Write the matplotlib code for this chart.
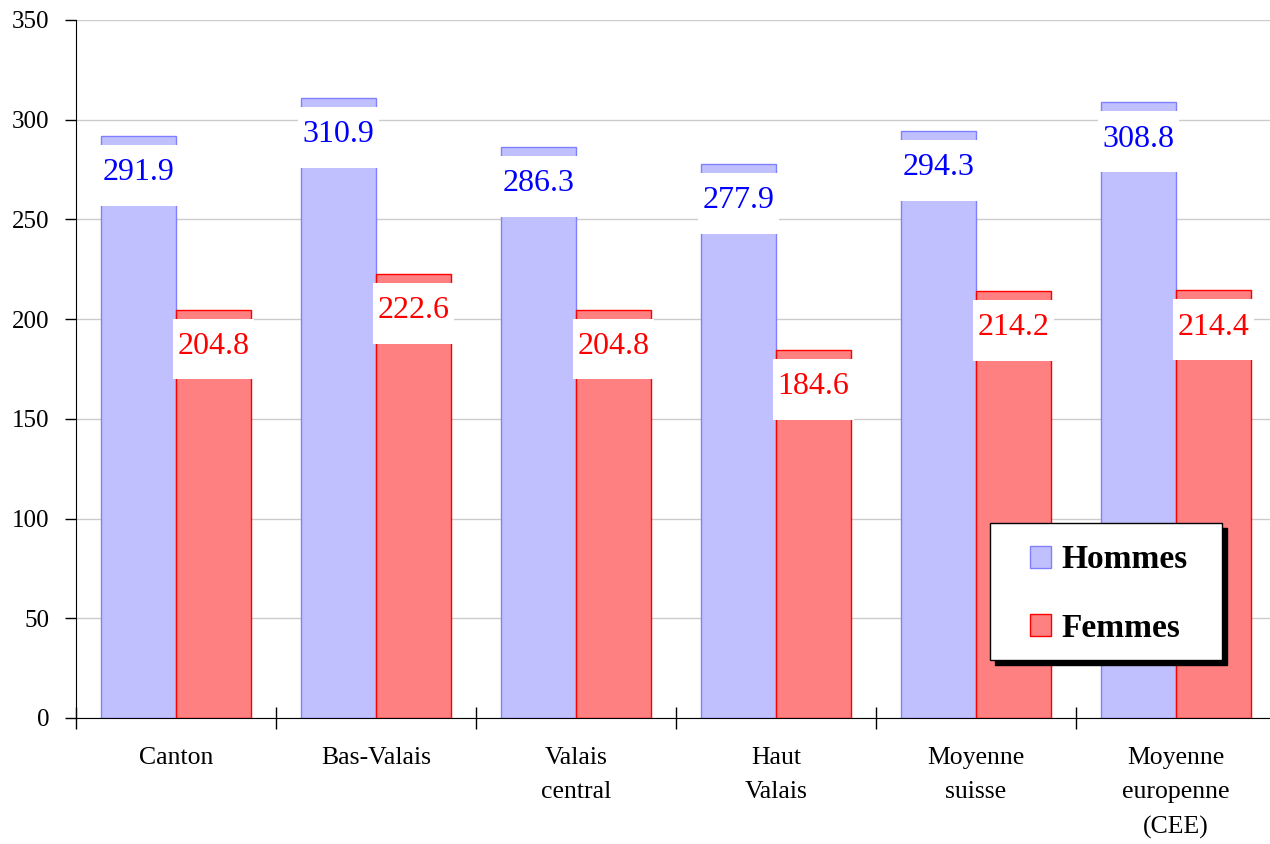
import numpy as np
import matplotlib.pyplot as plt
from matplotlib.patches import Rectangle

categories = ['Canton', 'Bas-Valais', 'Valais\ncentral', 'Haut\nValais',
              'Moyenne\nsuisse', 'Moyenne\neuropenne\n(CEE)']
hommes = [291.9, 310.9, 286.3, 277.9, 294.3, 308.8]
femmes = [204.8, 222.6, 204.8, 184.6, 214.2, 214.4]

plt.rcParams['font.family'] = ['Liberation Serif', 'DejaVu Serif']

fig = plt.figure(figsize=(12.7, 8.44), dpi=100)
ax = fig.add_axes([76/1270, 1-718/844, 1200/1270, 698/844])

x = np.arange(len(categories))
w = 0.375
ax.bar(x - w/2, hommes, w, color='#c0c0ff', edgecolor='#8080ff', lw=1, label='Hommes', zorder=2)
ax.bar(x + w/2, femmes, w, color='#ff8080', edgecolor='#ff0000', lw=1, label='Femmes', zorder=2)

# white value boxes just under the top of each bar
bw = w + 0.03
for vals, off, col in [(hommes, -w/2, '#0000ff'), (femmes, w/2, '#ff0000')]:
    for xi, v in zip(x, vals):
        ax.add_patch(Rectangle((xi + off - bw/2, v - 35), bw, 30.5, facecolor='white',
                               edgecolor='none', zorder=3))
        ax.text(xi + off, v - 18.5, f'{v:.1f}', ha='center', va='center',
                fontsize=23, color=col, zorder=4)

ax.set_xlim(-0.5, 5.5)
ax.set_ylim(0, 350)
ax.set_yticks(np.arange(0, 351, 50))
ax.yaxis.grid(True, color='#cccccc', lw=1, zorder=0)
ax.set_axisbelow(True)

ax.set_xticks(x)
ax.set_xticklabels(categories, fontsize=18.5, linespacing=1.72)
ax.set_xticks(np.arange(-0.5, 5.6, 1), minor=True)
ax.tick_params(axis='x', which='major', length=0, pad=21)
ax.tick_params(axis='x', which='minor', direction='inout', length=16, width=1)
ax.tick_params(axis='y', direction='out', length=8, width=1, labelsize=18, pad=11)

for s in ['top', 'right']:
    ax.spines[s].set_visible(False)

# legend frame with black drop shadow
fx, fy, fw, fh = 990/1270, 1-660/844, 232/1270, 137/844
fig.patches.append(Rectangle((fx + 5/1270, fy - 5/844), fw, fh, transform=fig.transFigure,
                             facecolor='black', edgecolor='black', zorder=5))
fig.patches.append(Rectangle((fx, fy), fw, fh, transform=fig.transFigure,
                             facecolor='white', edgecolor='black', lw=1, zorder=6))
leg = fig.legend(loc='center', bbox_to_anchor=(1109/1270, 1-594/844),
                 prop={'weight': 'bold', 'size': 24}, frameon=False,
                 labelspacing=1.12, handlelength=0.63, handleheight=0.63,
                 handletextpad=0.3, borderpad=0)
leg.set_zorder(7)

fig.savefig('out.png', dpi=100)
